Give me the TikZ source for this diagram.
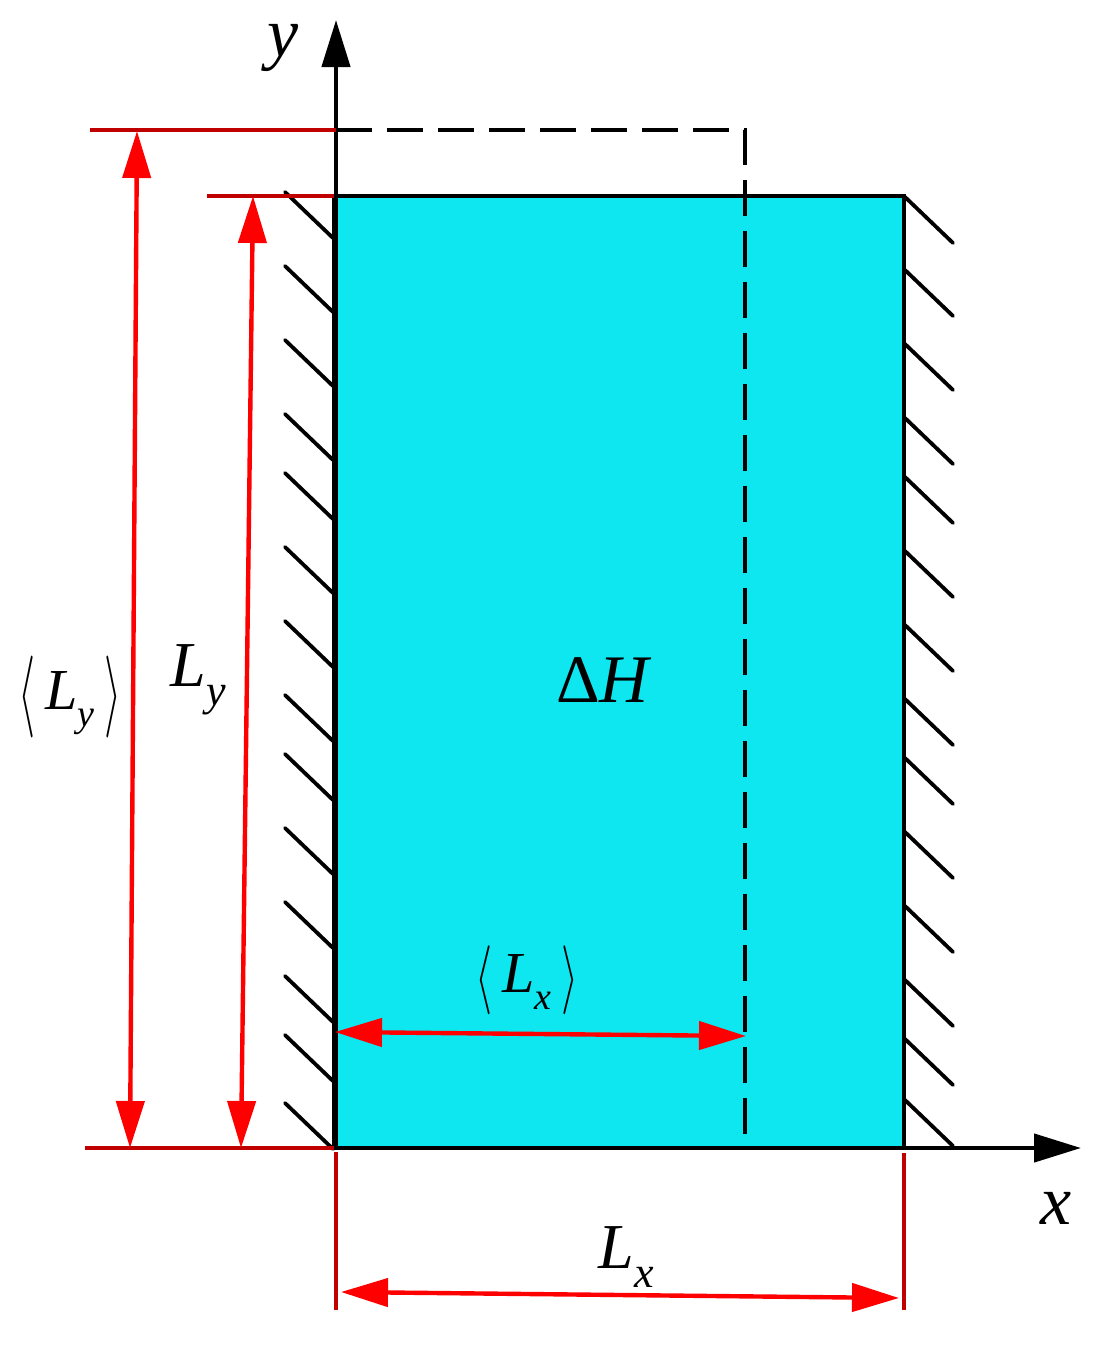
\documentclass[tikz,border=0pt]{standalone}
\usepackage{fontspec}
\setmainfont{Liberation Serif}
\usetikzlibrary{arrows.meta,calc}
\definecolor{fluid}{RGB}{14,230,240}
\definecolor{dimred}{RGB}{192,0,0}
\newcommand{\lblsize}[1]{\fontsize{#1}{#1}\selectfont}
% longueur avec indice : tailles, lettre
\newcommand{\lensub}[3]{\lblsize{#1}\textit{L}\raisebox{-0.3em}{\lblsize{#2}\textit{#3}}}
\newcommand{\lenmean}[2]{$\vcenter{\hbox{\resizebox*{8.5pt}{#1}{$\langle$}}}$\hspace{5pt}#2\hspace{5pt}$\vcenter{\hbox{\resizebox*{8.5pt}{#1}{$\rangle$}}}$}
\tikzset{
  wall/.style={line width=1.9pt,line cap=round},
  dimline/.style={line width=2.2pt,dimred},
  dimarrow/.style={line width=2.2pt,red,{Triangle[length=23.5pt,width=14pt]}-{Triangle[length=23.5pt,width=14pt]}},
  axisline/.style={line width=2.2pt,-{Triangle[length=23.5pt,width=14pt]}},
  lbl/.style={inner sep=0pt,outer sep=0pt}
}
\begin{document}
\begin{tikzpicture}[x=0.5pt,y=-0.5pt]
\useasboundingbox (0,0) rectangle (1106,1346);
\coordinate (O) at (334,1148);
\coordinate (A) at (904,1148);
\coordinate (B) at (904,196);
\coordinate (C) at (334,196);
\coordinate (Y) at (336,20);
\coordinate (X) at (1081,1148);
\coordinate (Q) at (745,130);
\coordinate (P) at (745,1136);
\fill[fluid] (O) rectangle (B);
% hachures des parois
\foreach \ya in {192,266,340,414,473,547,621,695,754,828,902,976,1035,1103}
  \draw[wall] (285,\ya)--++(48,46);
\foreach \ya in {197,270,344,418,477,551,625,699,758,832,906,980,1039,1100}
  \draw[wall] (905,\ya)--++(48,46);
\draw[line width=2pt,dash pattern=on 18pt off 7.5pt] (336,130)--(Q)--(P);
\draw[axisline] (336,1148)--(Y);
\draw[axisline] (O)--(X);
\draw[line width=2.2pt] (O)--(C)--(B)--(A);
% cotes
\draw[dimline] (90,130)--(336,130);
\draw[dimline] (207,196)--(C);
\draw[dimline] (85,1148)--(O);
\draw[dimline] (336,1152)--(336,1310);
\draw[dimline] (904,1153)--(904,1310);
\coordinate (ma) at (137,131);
\coordinate (mb) at (130,1148);
\coordinate (ia) at (253,196);
\coordinate (ib) at (241,1148);
\coordinate (ha) at (335,1032);
\coordinate (hb) at (746,1036);
\coordinate (la) at (341,1292);
\coordinate (lb) at (899,1298);
\draw[dimarrow] (ma)--(mb);
\draw[dimarrow] (ia)--(ib);
\draw[dimarrow] (ha)--(hb);
\draw[dimarrow] (la)--(lb);
\node[lbl] (ylbl) at (283,48){\lblsize{35}\textit{y}};
\node[lbl] (xlbl) at (1056,1208){\lblsize{35}\textit{x}};
\node[lbl] (dH) at (604,680){\lblsize{34}Δ\textit{H}};
\node[lbl] (Ly) at (198,680){\lensub{32}{22}{y}};
\node[lbl] (mLy) at (70,697){\lblsize{29}\lenmean{41pt}{\lensub{29}{19}{y}}};
\node[lbl] (mLx) at (527,980){\lblsize{29}\lenmean{34.5pt}{\lensub{29}{19}{x}}};
\node[lbl] (Lx) at (626,1257){\lensub{32}{22}{x}};
\end{tikzpicture}
\end{document}
